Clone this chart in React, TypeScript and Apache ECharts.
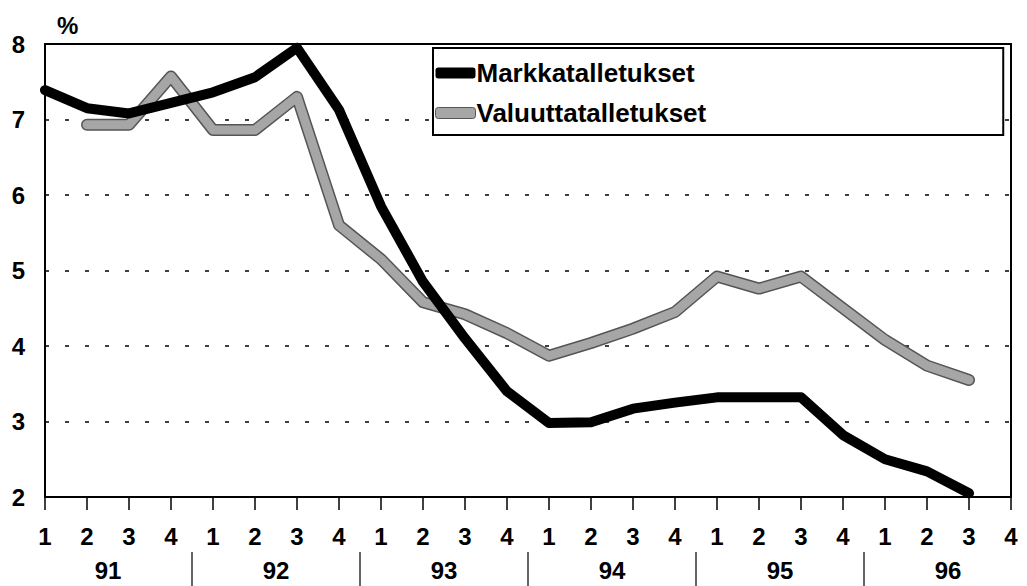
import React, { useEffect, useRef } from "react";
import * as echarts from "echarts";

const years = ["91", "92", "93", "94", "95", "96"];
const quarters = ["1", "2", "3", "4"];
const markka = [7.39, 7.15, 7.08, 7.22, 7.36, 7.56, 7.95, 7.13, 5.85, 4.85, 4.1, 3.4, 2.98, 2.99, 3.17, 3.25, 3.32, 3.32, 3.32, 2.82, 2.5, 2.34, 2.05, null];
const valuutta = [null, 6.93, 6.93, 7.57, 6.86, 6.86, 7.3, 5.6, 5.15, 4.58, 4.42, 4.17, 3.87, 4.04, 4.23, 4.45, 4.92, 4.76, 4.92, 4.5, 4.08, 3.74, 3.55, null];
const yTicks = [2, 3, 4, 5, 6, 7, 8];

const categories: string[] = [];
years.forEach((y) => quarters.forEach((q) => categories.push(y + "Q" + q)));

const FONT = "Liberation Sans, Arial, sans-serif";

export default function App() {
  const ref = useRef<HTMLDivElement>(null);
  useEffect(() => {
    document.body.style.margin = "0";
    const chart = echarts.init(ref.current!, null, { renderer: "svg" });
    chart.setOption({
      animation: false,
      backgroundColor: "#fff",
      title: {
        text: "%",
        left: 52,
        top: 8,
        textStyle: { fontFamily: FONT, fontWeight: "bold", fontSize: 24, color: "#000" },
      },
      grid: {
        left: 45,
        right: 16,
        top: 44,
        bottom: 89,
        show: true,
        borderColor: "#000",
        borderWidth: 2,
        backgroundColor: "transparent",
      },
      legend: {
        left: 433,
        top: 48,
        orient: "vertical",
        backgroundColor: "#fff",
        borderColor: "#000",
        borderWidth: 2,
        borderRadius: 0,
        padding: [12, 297, 9, 2],
        itemGap: 14,
        itemWidth: 40,
        itemHeight: 11,
        textStyle: { fontFamily: FONT, fontWeight: "bold", fontSize: 26, color: "#000", padding: [0, 0, 0, -4] },
        data: [
          { name: "Markkatalletukset", icon: "roundRect", itemStyle: { color: "#000" } },
          { name: "Valuuttatalletukset", icon: "roundRect", itemStyle: { color: "#a6a6a6", borderColor: "#555", borderWidth: 1 } },
        ],
      },
      xAxis: {
        type: "category",
        data: categories,
        boundaryGap: false,
        axisLine: { show: true, lineStyle: { color: "#000", width: 2 } },
        axisTick: { show: true, inside: false, length: 13, alignWithLabel: true, interval: 0, lineStyle: { color: "#000", width: 1.5 } },
        axisLabel: {
          interval: 0,
          margin: 27,
          fontFamily: FONT,
          fontWeight: "bold",
          fontSize: 24,
          color: "#000",
          formatter: (v: string) => v.split("Q")[1],
        },
        splitLine: { show: false },
      },
      yAxis: {
        type: "value",
        min: 2,
        max: 8,
        interval: 1,
        axisLine: { show: true, lineStyle: { color: "#000", width: 2 } },
        axisTick: { show: false },
        axisLabel: {
          margin: 20,
          fontFamily: FONT,
          fontWeight: "bold",
          fontSize: 24,
          color: "#000",
          formatter: (v: number) => (yTicks.includes(v) ? String(v) : ""),
        },
        splitLine: { show: true, lineStyle: { color: "#000", width: 1.5, type: [4, 16] } },
      },
      series: [
        {
          name: "valuutta-edge",
          type: "line",
          data: valuutta,
          symbol: "none",
          silent: true,
          z: 2,
          lineStyle: { color: "#555", width: 12, cap: "round", join: "round" },
        },
        {
          name: "Valuuttatalletukset",
          type: "line",
          data: valuutta,
          symbol: "none",
          z: 3,
          lineStyle: { color: "#a6a6a6", width: 9, cap: "round", join: "round" },
        },
        {
          name: "Markkatalletukset",
          type: "line",
          data: markka,
          symbol: "none",
          z: 4,
          lineStyle: { color: "#000", width: 10, cap: "round", join: "round" },
        },
      ],
    });

    const px = (i: number) => chart.convertToPixel({ xAxisIndex: 0 }, categories[i]) as number;
    const elements: any[] = [];
    years.forEach((y, i) => {
      const a = px(i * 4);
      const b = px(i * 4 + 3);
      elements.push({
        type: "text",
        x: (a + b) / 2,
        y: 570,
        style: {
          text: y,
          fontFamily: FONT,
          fontWeight: "bold",
          fontSize: 24,
          fill: "#000",
          align: "center",
          verticalAlign: "middle",
        },
      });
      if (i < years.length - 1) {
        const s = (b + px(i * 4 + 4)) / 2;
        elements.push({
          type: "line",
          shape: { x1: s, y1: 552, x2: s, y2: 586 },
          style: { stroke: "#000", lineWidth: 1.2 },
        });
      }
    });
    chart.setOption({ graphic: { elements } });

    return () => chart.dispose();
  }, []);
  return <div ref={ref} style={{ position: "absolute", left: 0, top: 0, width: 1027, height: 586 }} />;
}
